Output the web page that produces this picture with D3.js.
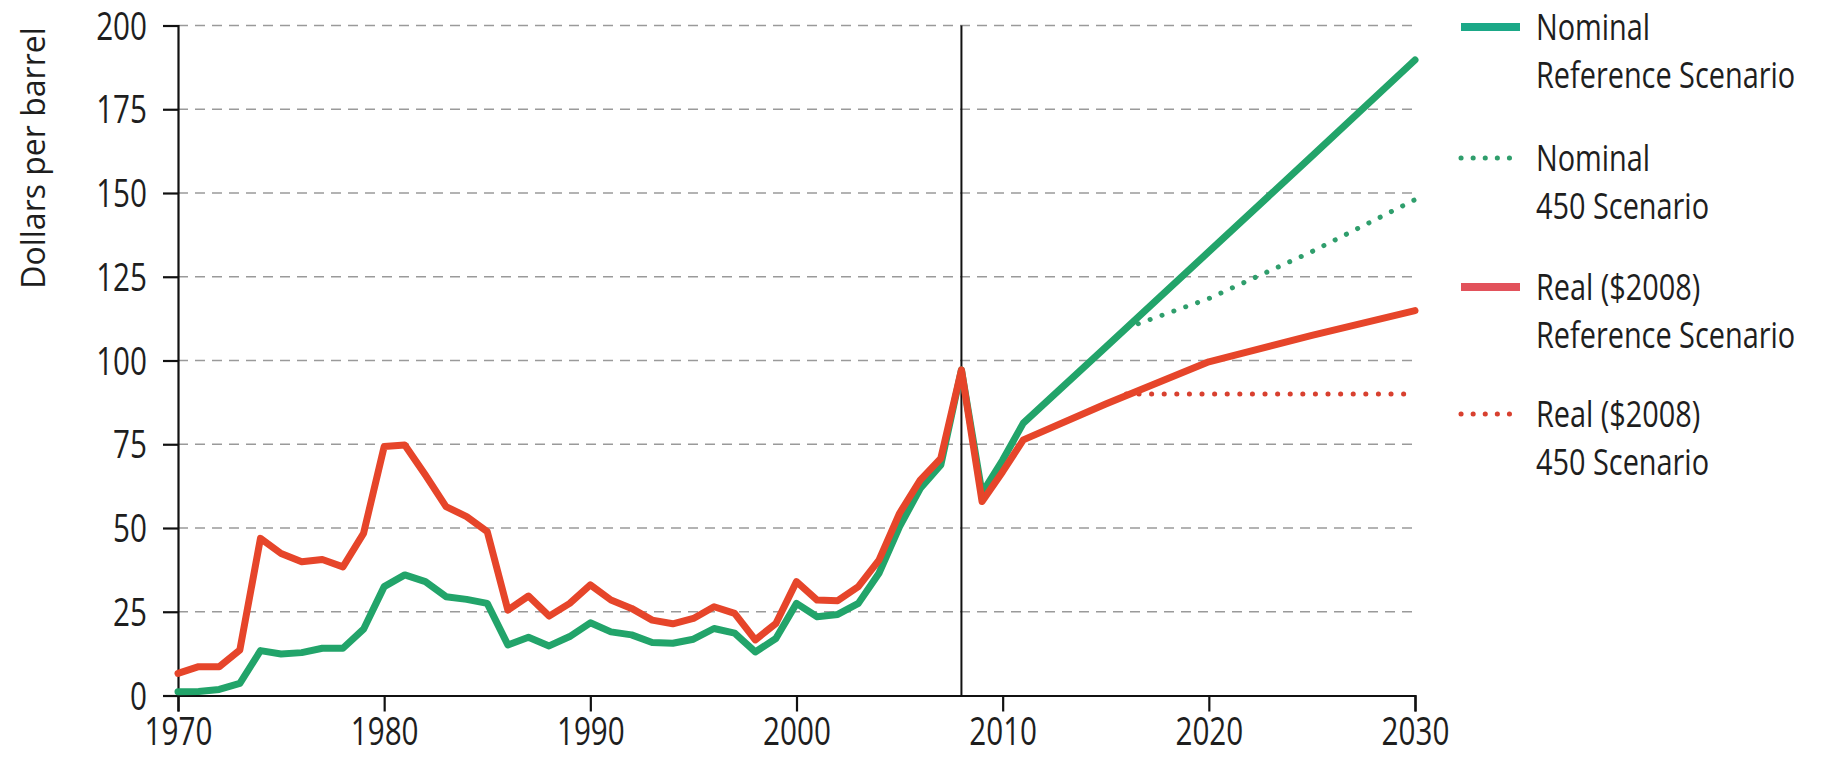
<!DOCTYPE html>
<html>
<head>
<meta charset="utf-8">
<style>
body { margin: 0; background: #fff; }
text { font-family: "Open Sans", "Liberation Sans", sans-serif; fill: #1e1e1e; }
</style>
</head>
<body>
<div id="chart"></div>
<script src="https://cdn.jsdelivr.net/npm/d3@7"></script>
<script>

// history + reference scenario, same years for both series
var years = [1970, 1971, 1972, 1973, 1974, 1975, 1976, 1977, 1978, 1979,
             1980, 1981, 1982, 1983, 1984, 1985, 1986, 1987, 1988, 1989,
             1990, 1991, 1992, 1993, 1994, 1995, 1996, 1997, 1998, 1999,
             2000, 2001, 2002, 2003, 2004, 2005, 2006, 2007, 2008, 2009,
             2010, 2011, 2015, 2020, 2025, 2030];

var nominal_ref = [1.1, 1.2, 1.8, 3.6, 13.4, 12.4, 12.8, 14.1, 14.1, 19.8,
                   32.5, 36.0, 34.0, 29.5, 28.7, 27.5, 15.1, 17.4, 14.8, 17.6,
                   21.7, 19.0, 18.1, 15.8, 15.6, 16.8, 20.0, 18.6, 13.0, 17.0,
                   27.5, 23.5, 24.2, 27.5, 36.5, 50.4, 61.8, 68.8, 97.2, 60.4,
                   70.3, 81.3, 104.0, 132.5, 161.0, 189.7];

var real_ref = [6.6, 8.6, 8.6, 13.6, 46.9, 42.4, 39.9, 40.6, 38.4, 48.4,
                74.3, 74.8, 65.8, 56.4, 53.4, 48.9, 25.5, 29.7, 23.7, 27.5,
                33.0, 28.5, 26.0, 22.5, 21.4, 23.0, 26.5, 24.5, 16.6, 21.5,
                34.0, 28.5, 28.3, 32.5, 40.4, 54.4, 64.3, 70.8, 97.2, 57.9,
                66.8, 76.3, 87.0, 99.6, 107.5, 114.9];

// 450 scenario, branching off the reference lines
var years_450 = [2016, 2020, 2025, 2030];
var nominal_450 = [109.7, 118.5, 132.5, 148.0];
var real_450 = [90.0, 90.0, 90.0, 90.0];

var y_ticks = [0, 25, 50, 75, 100, 125, 150, 175, 200];
var x_ticks = [1970, 1980, 1990, 2000, 2010, 2020, 2030];
var divider_year = 2008;

var legend_items = [
	{ line1: 'Nominal', line2: 'Reference Scenario', color: '#1ba887', dotted: false },
	{ line1: 'Nominal', line2: '450 Scenario', color: '#2f9e6c', dotted: true },
	{ line1: 'Real ($2008)', line2: 'Reference Scenario', color: '#e2525b', dotted: false },
	{ line1: 'Real ($2008)', line2: '450 Scenario', color: '#d8402f', dotted: true }
];

var canvas_size = { width: 1830, height: 757 };
var green = '#22a46a';
var red = '#e6452a';
var squeeze = 0.78;   // the original face is a condensed one

var svg = d3.select( '#chart' )
	.append( 'svg' )
		.attr( 'width', canvas_size.width )
		.attr( 'height', canvas_size.height );

var x = d3.scaleLinear().domain( [1970, 2030] ).range( [178, 1415] );
var y = d3.scaleLinear().domain( [0, 200] ).range( [695.5, 25.5] );

// dashed grid
svg.append( 'g' )
	.selectAll( 'line' )
	.data( y_ticks.filter( function(d) { return d > 0; } ) )
	.enter().append( 'line' )
		.attr( 'x1', x(1970) )
		.attr( 'x2', x(2030) + 4 )
		.attr( 'y1', function(d) { return y(d); } )
		.attr( 'y2', function(d) { return y(d); } )
		.attr( 'stroke', '#9a9a9a' )
		.attr( 'stroke-width', 1.6 )
		.attr( 'stroke-dasharray', '10,7' );

// y axis
var y_axis = svg.append( 'g' )
	.attr( 'transform', 'translate(' + x(1970) + ',0)' )
	.call( d3.axisLeft( y ).tickValues( y_ticks ).tickSize( 15 ) );

// x axis
var x_axis = svg.append( 'g' )
	.attr( 'transform', 'translate(0,' + y(0) + ')' )
	.call( d3.axisBottom( x ).tickValues( x_ticks ).tickFormat( d3.format( 'd' ) ).tickSize( 16 ) );

[y_axis, x_axis].forEach( function( a )
{
	a.select( '.domain' ).attr( 'stroke', '#111' ).attr( 'stroke-width', 2.2 );
	a.selectAll( '.tick line' ).attr( 'stroke', '#111' ).attr( 'stroke-width', 2.2 );
	a.selectAll( '.tick text' )
		.attr( 'font-family', '"Open Sans", "Liberation Sans", sans-serif' )
		.attr( 'font-size', 38 )
		.attr( 'fill', '#1e1e1e' );
});
// squeeze the labels sideways, keeping their anchor where it was
y_axis.selectAll( '.tick text' )
	.attr( 'x', -31 / squeeze )
	.attr( 'dy', '0.36em' )
	.attr( 'transform', 'scale(' + squeeze + ',1)' );
x_axis.selectAll( '.tick text' )
	.attr( 'y', 0 )
	.attr( 'dy', 0 )
	.attr( 'transform', 'translate(0,49) scale(' + squeeze + ',1)' );

// y axis title
svg.append( 'text' )
	.attr( 'transform', 'translate(45,158) rotate(-90) scale(0.97,1)' )
	.attr( 'text-anchor', 'middle' )
	.attr( 'font-size', 33 )
	.text( 'Dollars per barrel' );

// 2008 divider
svg.append( 'line' )
	.attr( 'x1', x(divider_year) ).attr( 'x2', x(divider_year) )
	.attr( 'y1', y(0) ).attr( 'y2', y(200) )
	.attr( 'stroke', '#111' )
	.attr( 'stroke-width', 2 );

var line = d3.line()
	.x( function(d) { return x(d[0]); } )
	.y( function(d) { return y(d[1]); } );

function draw_series( xs, vs, color, dotted )
{
	var path = svg.append( 'path' )
		.datum( xs.map( function( yr, i ) { return [yr, vs[i]]; } ) )
		.attr( 'd', line )
		.attr( 'fill', 'none' )
		.attr( 'stroke', color );
	if( dotted )
		path.attr( 'stroke-width', 5 )
			.attr( 'stroke-linecap', 'round' )
			.attr( 'stroke-dasharray', '0.1,12.5' );
	else
		path.attr( 'stroke-width', 7 )
			.attr( 'stroke-linejoin', 'round' )
			.attr( 'stroke-linecap', 'round' );
}

draw_series( years_450, nominal_450, '#2f9e6c', true );
draw_series( years_450, real_450, '#d8402f', true );
draw_series( years, nominal_ref, green, false );
draw_series( years, real_ref, red, false );

// legend
var swatch_y = [27, 158, 287, 414];
var legend = svg.append( 'g' );
legend_items.forEach( function( item, i )
{
	var sy = swatch_y[i];
	var sw = legend.append( 'line' )
		.attr( 'x1', 1461 ).attr( 'x2', 1520 )
		.attr( 'y1', sy ).attr( 'y2', sy )
		.attr( 'stroke', item.color );
	if( item.dotted )
		sw.attr( 'stroke-width', 5 ).attr( 'stroke-linecap', 'round' ).attr( 'stroke-dasharray', '0.1,12' );
	else
		sw.attr( 'stroke-width', 8 );

	legend.append( 'text' )
		.attr( 'transform', 'translate(1536,' + (sy + 13) + ') scale(' + squeeze + ',1)' )
		.attr( 'font-size', 37 )
		.text( item.line1 );
	legend.append( 'text' )
		.attr( 'transform', 'translate(1536,' + (sy + 61) + ') scale(' + squeeze + ',1)' )
		.attr( 'font-size', 37 )
		.text( item.line2 );
});

</script>
</body>
</html>
